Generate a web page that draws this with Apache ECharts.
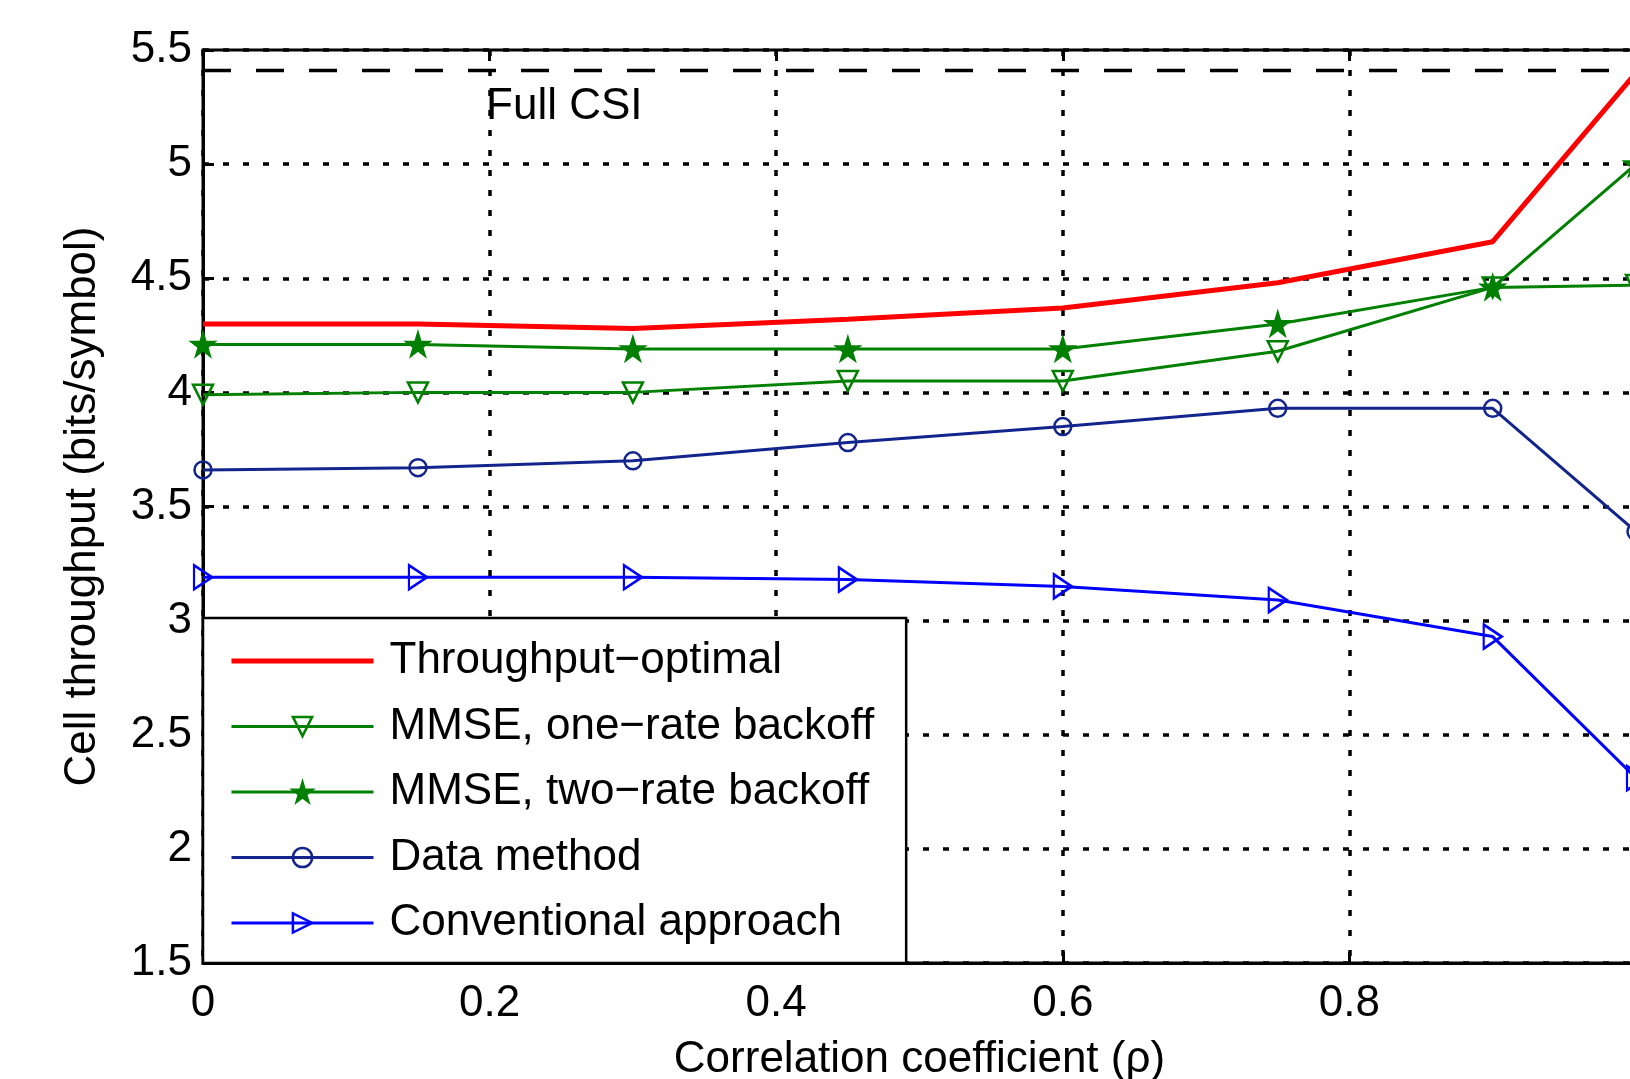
<!DOCTYPE html>
<html>
<head>
<meta charset="utf-8">
<script src="https://cdn.jsdelivr.net/npm/echarts@6/dist/echarts.min.js"></script>
<style>
  html, body { margin: 0; padding: 0; background: #fff; }
  #chart { width: 1630px; height: 1079px; }
</style>
</head>
<body>
<div id="chart"></div>
<script>
// x samples (correlation coefficient)
const rho = [0, 0.15, 0.3, 0.45, 0.6, 0.75, 0.9, 1.0]
// cell throughput, bits/symbol
const throughputOptimal = [4.30, 4.30, 4.28, 4.32, 4.37, 4.48, 4.66, 5.40]
const mmseOneRate = [3.99, 4.00, 4.00, 4.05, 4.05, 4.18, 4.46, 4.47]
const mmseTwoRate = [4.21, 4.21, 4.19, 4.19, 4.19, 4.30, 4.46, 5.00]
const dataMethod = [3.66, 3.67, 3.70, 3.78, 3.85, 3.93, 3.93, 3.39]
const conventional = [3.19, 3.19, 3.19, 3.18, 3.15, 3.09, 2.93, 2.31]
// full CSI reference level and where its text sits
const fullCsi = 5.41
const fullCsiLabel = [0.2, 5.25]
// axis ticks
const xTicks = [0, 0.2, 0.4, 0.6, 0.8, 1]
const yTicks = [1.5, 2, 2.5, 3, 3.5, 4, 4.5, 5, 5.5]

const FONT = "'Liberation Sans', Arial, Helvetica, sans-serif"
const pts = ys => rho.map((x, i) => [x, ys[i]])

// marker shapes
const TRI_DOWN = 'path://M0,0 L20,0 L10,20 Z'
const TRI_RIGHT = 'path://M0,0 L20,10 L0,20 Z'
const STAR = 'path://M50,0 L61,35 L98,35 L68,57 L79,91 L50,70 L21,91 L32,57 L2,35 L39,35 Z'

function lineSeries(name, ys, color, width, symbol, size, filled) {
  return {
    name: name,
    type: 'line',
    data: pts(ys),
    symbol: symbol || 'circle',
    showSymbol: !!symbol,
    symbolSize: size || 0,
    lineStyle: { color: color, width: width },
    itemStyle: {
      color: filled ? color : 'rgba(0,0,0,0)',
      borderColor: color,
      borderWidth: symbol ? 2.5 : 0
    },
    emphasis: { disabled: true },
    z: 3
  }
}

const axisText = { fontFamily: FONT, fontSize: 44, color: '#000' }
const gridLine = { show: true, lineStyle: { color: '#000', width: 3.5, type: [6, 14] } }
const tickInside = { show: true, inside: true, length: 11, lineStyle: { color: '#000', width: 3 } }

const chart = echarts.init(document.getElementById('chart'))
chart.setOption({
  animation: false,
  backgroundColor: '#fff',
  grid: {
    left: 203, top: 50, width: 1433, height: 913,
    outerBoundsMode: 'none',
    containLabel: false,
    show: true, borderColor: '#000', borderWidth: 3
  },
  legend: {
    data: ['Throughput\u2212optimal', 'MMSE, one\u2212rate backoff', 'MMSE, two\u2212rate backoff', 'Data method', 'Conventional approach'],
    orient: 'vertical',
    left: 203,
    top: 618,
    padding: [18, 32, 15, 26],
    itemWidth: 142,
    itemHeight: 24,
    itemGap: 15.5,
    backgroundColor: '#fff',
    borderColor: '#000',
    borderWidth: 2.5,
    selectedMode: false,
    lineStyle: { width: 'inherit' },
    itemStyle: { borderWidth: 'inherit' },
    textStyle: { fontFamily: FONT, fontSize: 44, color: '#000', lineHeight: 50, padding: [0, 0, 0, 11] }
  },
  xAxis: [{
    type: 'value',
    min: xTicks[0], max: xTicks[xTicks.length - 1], interval: 0.2,
    axisLine: { show: true, lineStyle: { color: '#000', width: 3 } },
    axisTick: tickInside,
    axisLabel: Object.assign({ margin: 19, showMaxLabel: false }, axisText),
    splitLine: gridLine,
    name: 'Correlation coefficient (\u03c1)',
    nameLocation: 'middle',
    nameGap: 75,
    nameTextStyle: axisText
  }, {
    type: 'value',
    position: 'top',
    min: xTicks[0], max: xTicks[xTicks.length - 1], interval: 0.2,
    axisLine: { show: false },
    axisTick: tickInside,
    axisLabel: { show: false },
    splitLine: { show: false }
  }],
  yAxis: {
    type: 'value',
    min: yTicks[0], max: yTicks[yTicks.length - 1], interval: 0.5,
    axisLine: { show: true, lineStyle: { color: '#000', width: 3 } },
    axisTick: tickInside,
    axisLabel: Object.assign({ margin: 11 }, axisText),
    splitLine: gridLine,
    name: 'Cell throughput (bits/symbol)',
    nameLocation: 'middle',
    nameGap: 98,
    nameTextStyle: axisText
  },
  series: [
    {
      name: 'Full CSI',
      type: 'line',
      data: [[xTicks[0], fullCsi], [xTicks[xTicks.length - 1], fullCsi]],
      symbol: 'none',
      lineStyle: { color: '#000', width: 3.5, type: [28, 25] },
      emphasis: { disabled: true },
      z: 2
    },
    {
      type: 'scatter',
      data: [fullCsiLabel],
      symbolSize: 1,
      itemStyle: { color: 'rgba(0,0,0,0)', opacity: 1 },
      silent: true,
      z: 4,
      label: Object.assign({ show: true, position: 'right', distance: 0, offset: [-4, 0], formatter: 'Full CSI', opacity: 1 }, axisText)
    },
    lineSeries('Throughput\u2212optimal', throughputOptimal, '#ff0000', 5),
    lineSeries('MMSE, one\u2212rate backoff', mmseOneRate, '#008000', 3, TRI_DOWN, 20),
    lineSeries('MMSE, two\u2212rate backoff', mmseTwoRate, '#008000', 3, STAR, 22, true),
    lineSeries('Data method', dataMethod, '#13258c', 3, 'circle', 17),
    lineSeries('Conventional approach', conventional, '#0000ff', 3, TRI_RIGHT, [18, 24])
  ]
})
</script>
</body>
</html>
